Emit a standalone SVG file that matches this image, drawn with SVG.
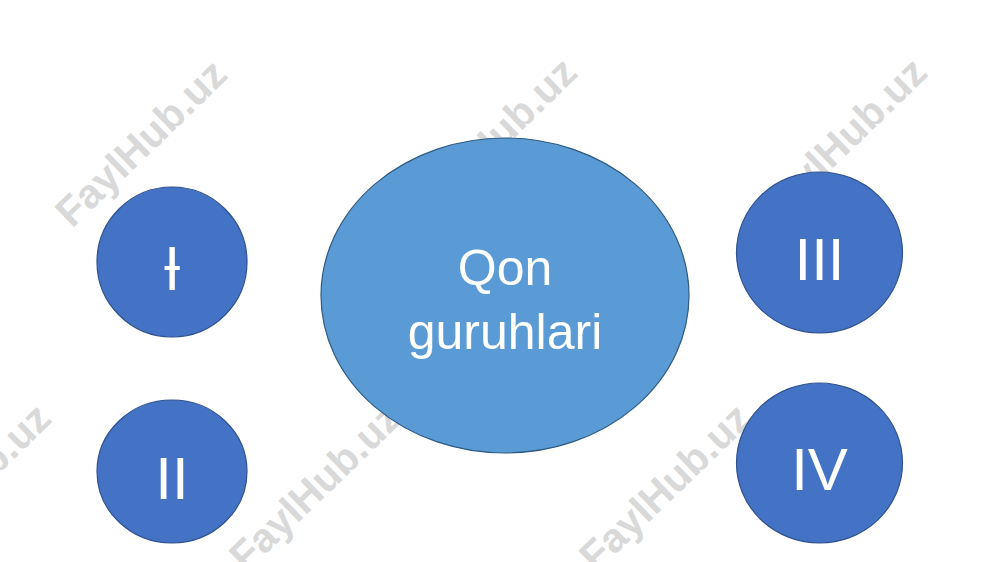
<svg xmlns="http://www.w3.org/2000/svg" width="1000" height="562" viewBox="0 0 1000 562">
  <style>
    .wm { font-family: "Liberation Sans", Arial, sans-serif; font-weight: bold; font-size: 41px; fill: #d9d9d9; text-anchor: middle; }
    .small { fill: #4472C4; stroke: #2F528F; stroke-width: 1.2; }
    .big { fill: #5B9BD5; stroke: #2E5A80; stroke-width: 1.2; }
    .num { font-family: "Liberation Sans", Arial, sans-serif; font-size: 60px; fill: #ffffff; text-anchor: middle; }
    .lbl { font-family: "Liberation Sans", Arial, sans-serif; font-size: 50px; fill: #ffffff; text-anchor: middle; }
  </style>
  <rect width="1000" height="562" fill="#ffffff"/>
  <g id="watermarks">
    <text class="wm" transform="translate(141,143) rotate(-44)" x="0" y="14">FaylHub.uz</text>
    <text class="wm" transform="translate(491,141) rotate(-44)" x="0" y="14">FaylHub.uz</text>
    <text class="wm" transform="translate(841,141) rotate(-44)" x="0" y="14">FaylHub.uz</text>
    <text class="wm" transform="translate(-35,487) rotate(-44)" x="0" y="14">FaylHub.uz</text>
    <text class="wm" transform="translate(315,487) rotate(-44)" x="0" y="14">FaylHub.uz</text>
    <text class="wm" transform="translate(665,487) rotate(-44)" x="0" y="14">FaylHub.uz</text>
  </g>
  <g id="connectors"></g>
  <g id="center">
    <ellipse class="big" cx="505" cy="295.5" rx="184" ry="157.5"/>
    <text class="lbl" x="505" y="285">Qon</text>
    <text class="lbl" x="505" y="349">guruhlari</text>
  </g>
  <g id="group-I">
    <ellipse class="small" cx="172" cy="262" rx="75" ry="75"/>
    <text class="num" x="172" y="290">Ɨ</text>
  </g>
  <g id="group-II">
    <ellipse class="small" cx="172" cy="471.5" rx="75" ry="71.5"/>
    <text class="num" x="172" y="499">II</text>
  </g>
  <g id="group-III">
    <ellipse class="small" cx="819.5" cy="252.5" rx="83" ry="80.5"/>
    <text class="num" x="819.5" y="280">III</text>
  </g>
  <g id="group-IV">
    <ellipse class="small" cx="819.5" cy="463" rx="83" ry="80"/>
    <text class="num" x="819.5" y="490">IV</text>
  </g>
</svg>
